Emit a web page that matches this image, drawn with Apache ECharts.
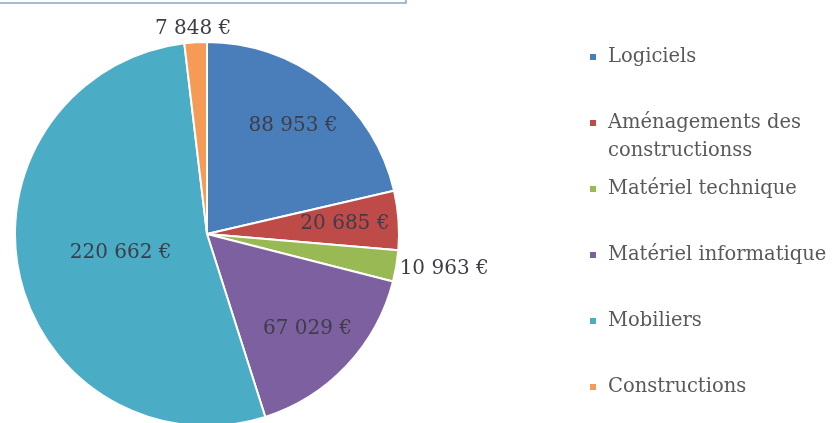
<!DOCTYPE html>
<html><head><meta charset="utf-8">
<script src="https://cdn.jsdelivr.net/npm/echarts@6/dist/echarts.min.js"></script>
<style>html,body{margin:0;padding:0;background:#fff}#c{width:837px;height:423px}</style></head>
<body><div id="c"></div>
<script>
const categories = ['Logiciels', 'Aménagements des constructionss', 'Matériel technique', 'Matériel informatique', 'Mobiliers', 'Constructions'];
const values = [88953, 20685, 10963, 67029, 220662, 7848];
const colors = ['#4a7ebb', '#be4b48', '#98b954', '#7d60a0', '#4bacc6', '#f59b55'];

const total = values.reduce((a, b) => a + b, 0);
const CX = 207, CY = 234, R = 192;
const mids = []; let acc = 0;
values.forEach(v => { mids.push((acc + v / 2) / total * 2 * Math.PI); acc += v; });
function fmt(v) { return String(v).replace(/\B(?=(\d{3})+(?!\d))/g, ' ') + ' €'; }
// Every legend entry is laid out as a 3-line block centred on its first text line,
// so a wrapped name overflows downward (like the original) without shifting the rows.
function legendText(n) {
  if (n.length > 22) return '\n' + n.replace(/^(.{1,20})\s/, '$1\n');
  return '\n' + n + '\n';
}

const chart = echarts.init(document.getElementById('c'), null, {renderer: 'canvas'});
chart.setOption({
  animation: false,
  graphic: [{type: 'rect', shape: {x: -2, y: -10, width: 408, height: 13}, style: {fill: 'none', stroke: '#8aa4c4', lineWidth: 1.5}}],
  legend: {
    orient: 'vertical', left: 588, top: 15, width: 250, height: 600, padding: 0, itemGap: -18, itemWidth: 8, itemHeight: 8, icon: 'rect',
    formatter: legendText,
    textStyle: {fontFamily: 'DejaVu Serif', fontSize: 19.5, color: '#595959', lineHeight: 28, padding: [0, 0, 0, 6]},
    data: categories
  },
  series: [{
    type: 'pie', center: [CX, CY], radius: R, startAngle: 90, clockwise: true, avoidLabelOverlap: false,
    itemStyle: {borderColor: '#fff', borderWidth: 2},
    label: {position: 'inside', formatter: p => fmt(p.value), fontFamily: 'DejaVu Serif', fontSize: 20, color: '#3d3d48'},
    labelLine: {show: false},
    emphasis: {disabled: true},
    labelLayout: function (p) {
      const i = p.dataIndex, a = mids[i], sx = Math.sin(a), sy = -Math.cos(a), share = values[i] / total;
      if (share < 0.03) {
        const w = p.labelRect.width, h = p.labelRect.height, d = R + 4;
        return {x: CX + d * sx + w / 2 * sx, y: CY + d * sy + h / 2 * sy, align: 'center', verticalAlign: 'middle'};
      }
      const d = share > 0.5 ? 0.46 * R : 0.72 * R;
      return {x: CX + d * sx, y: CY + d * sy, align: 'center', verticalAlign: 'middle'};
    },
    data: categories.map((n, i) => ({name: n, value: values[i], itemStyle: {color: colors[i]}}))
  }]
});
</script>
</body></html>
